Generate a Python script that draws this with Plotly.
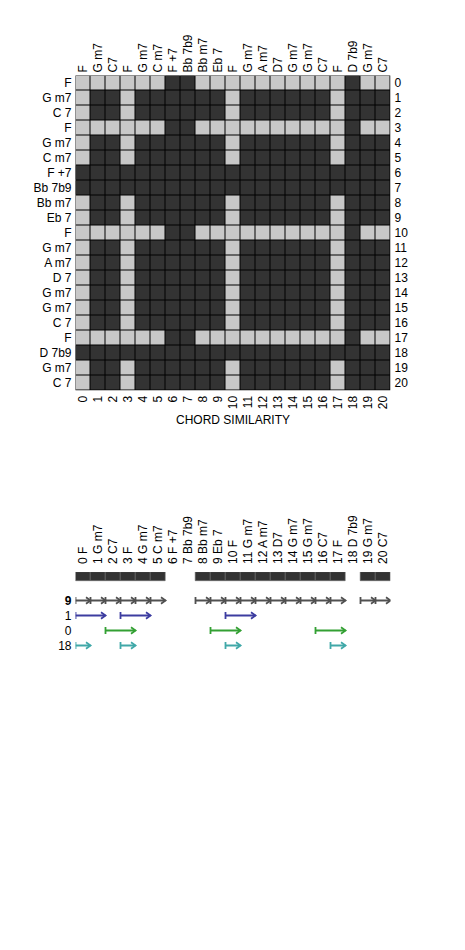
import plotly.graph_objects as go

# ---------------- data ----------------
chords_top = ["F", "G m7", "C7", "F", "G m7", "C m7", "F +7", "Bb 7b9", "Bb m7", "Eb 7",
              "F", "G m7", "A m7", "D7", "G m7", "G m7", "C7", "F", "D 7b9", "G m7", "C7"]
chords_left = ["F", "G m7", "C 7", "F", "G m7", "C m7", "F +7", "Bb 7b9", "Bb m7", "Eb 7",
               "F", "G m7", "A m7", "D 7", "G m7", "G m7", "C 7", "F", "D 7b9", "G m7", "C 7"]
chord_index = list(range(21))

# 1 = similar (light cell), 0 = not similar (dark cell)
similarity_rows = [
    "111111001111111111011",
    "100100000010000001000",
    "100100000010000001000",
    "111111001111111111011",
    "100100000010000001000",
    "100100000010000001000",
    "000000000000000000000",
    "000000000000000000000",
    "100100000010000001000",
    "100100000010000001000",
    "111111001111111111011",
    "100100000010000001000",
    "100100000010000001000",
    "100100000010000001000",
    "100100000010000001000",
    "100100000010000001000",
    "100100000010000001000",
    "111111001111111111011",
    "000000000000000000000",
    "100100000010000001000",
    "100100000010000001000",
]
similarity = [[int(c) for c in row] for row in similarity_rows]

# lower panel
segment_columns = [0, 1, 2, 3, 4, 5, 8, 9, 10, 11, 12, 13, 14, 15, 16, 17, 19, 20]
arrow_row_labels = ["<b>9</b>", "1", "0", "18"]
# arrows as (start column boundary, end column boundary)
arrows_9 = [(0, 1), (1, 2), (2, 3), (3, 4), (4, 5), (5, 6),
            (8, 9), (9, 10), (10, 11), (11, 12), (12, 13), (13, 14), (14, 15),
            (15, 16), (16, 17), (17, 18), (19, 20), (20, 21)]
arrows_1 = [(0, 2), (3, 5), (10, 12)]
arrows_0 = [(2, 4), (9, 11), (16, 18)]
arrows_18 = [(0, 1), (3, 4), (10, 11), (17, 18)]
arrow_sets = [arrows_9, arrows_1, arrows_0, arrows_18]
arrow_colors = ["#505050", "#3c3ca0", "#33a033", "#40a8a8"]

# ---------------- style ----------------
W, H = 465, 950
LIGHT = "#c8c8c8"
DARK = "#333333"
FONT = dict(family="Liberation Sans, Arial, sans-serif", size=12, color="#000000")

x0px, x1px = 75.5, 390.5
hm_top, hm_bot = 75.5, 390.5
low_top, low_bot = 572.0, 653.0
xdom = [x0px / W, x1px / W]
xrange_ = [-0.5, 20.5]

fig = go.Figure()

# heatmap
fig.add_trace(go.Heatmap(
    z=similarity, x=chord_index, y=chord_index,
    colorscale=[[0, DARK], [1, LIGHT]], zmin=0, zmax=1,
    showscale=False, xgap=1, ygap=1, hoverinfo="skip",
    xaxis="x", yaxis="y"))
# invisible trace for overlay numeric axes
fig.add_trace(go.Scatter(x=[0], y=[0], mode="markers", marker=dict(opacity=0),
                         hoverinfo="skip", showlegend=False, xaxis="x3", yaxis="y3"))

# lower panel bars
fig.add_trace(go.Bar(
    x=segment_columns, y=[0.6] * len(segment_columns), base=-1.9, width=1.0,
    marker=dict(color=DARK, line=dict(color="#6a6a6a", width=0.6)),
    hoverinfo="skip", showlegend=False, xaxis="x2", yaxis="y2"))

# arrows: start bar "|" + shaft + chevron ">"
head_dx = 4.5 / 15.0
head_dy = 3.2 / 15.0
bar_dy = 3.5 / 15.0
for row, (arrows, col) in enumerate(zip(arrow_sets, arrow_colors)):
    xs, ys = [], []
    for s, e in arrows:
        xs0, xe = s - 0.5, e - 0.5
        xs += [xs0, xe, None]
        ys += [row, row, None]
        xs += [xs0, xs0, None]
        ys += [row - bar_dy, row + bar_dy, None]
        xs += [xe - head_dx, xe, xe - head_dx, None]
        ys += [row - head_dy, row, row + head_dy, None]
    fig.add_trace(go.Scatter(x=xs, y=ys, mode="lines",
                             line=dict(color=col, width=1.8),
                             hoverinfo="skip", showlegend=False,
                             xaxis="x2", yaxis="y2"))

# black border/grid under heatmap
fig.add_shape(type="rect", xref="x", yref="y", x0=-0.5 - 1 / 15, x1=20.5,
              y0=-0.5 - 1 / 15, y1=20.5, fillcolor="#000000",
              line=dict(width=0), layer="below")

common_ax = dict(showgrid=False, zeroline=False, showline=False, ticks="",
                 tickfont=FONT, fixedrange=True)

fig.update_layout(
    width=W, height=H, margin=dict(l=0, r=0, t=0, b=0),
    paper_bgcolor="white", plot_bgcolor="rgba(0,0,0,0)",
    showlegend=False, font=FONT,
    xaxis=dict(domain=xdom, range=xrange_, side="top", anchor="y",
               tickvals=chord_index, ticktext=chords_top, tickangle=-90,
               ticklabelstandoff=2, **common_ax),
    yaxis=dict(domain=[1 - hm_bot / H, 1 - hm_top / H], range=[20.5, -0.5],
               anchor="x", tickvals=chord_index, ticktext=chords_left,
               ticklabelstandoff=3, **common_ax),
    xaxis3=dict(overlaying="x", range=xrange_, side="bottom", anchor="y",
                tickvals=chord_index, ticktext=[str(i) for i in chord_index],
                tickangle=-90, ticklabelstandoff=2, **common_ax),
    yaxis3=dict(overlaying="y", range=[20.5, -0.5], side="right", anchor="x",
                tickvals=chord_index, ticktext=[str(i) for i in chord_index],
                ticklabelstandoff=3, **common_ax),
    xaxis2=dict(domain=xdom, range=xrange_, side="top", anchor="y2",
                tickvals=chord_index,
                ticktext=[f"{i} {c}" for i, c in zip(chord_index, chords_top)],
                tickangle=-90, ticklabelstandoff=7, **common_ax),
    yaxis2=dict(domain=[1 - low_bot / H, 1 - low_top / H], range=[3.5, -1.9],
                anchor="x2", tickvals=[0, 1, 2, 3], ticktext=arrow_row_labels,
                ticklabelstandoff=3, **common_ax),
    bargap=0,
    annotations=[dict(text="CHORD SIMILARITY", xref="paper", yref="paper",
                      x=(x0px + x1px) / 2 / W, y=1 - 420 / H, showarrow=False,
                      font=FONT, xanchor="center", yanchor="middle")],
)

fig.write_html("out.html")
